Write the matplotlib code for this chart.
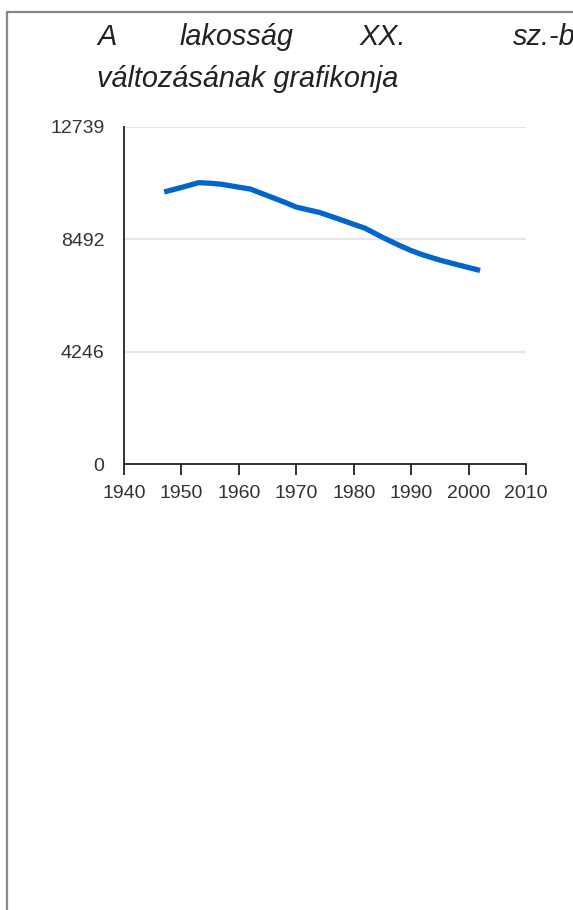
import matplotlib
matplotlib.use("Agg")
import matplotlib.pyplot as plt
from matplotlib.lines import Line2D

plt.rcParams['font.family'] = ['Liberation Sans', 'DejaVu Sans']

years = [1947, 1950, 1953, 1955, 1957, 1960, 1962, 1965, 1968, 1970, 1974, 1977,
         1980, 1982, 1985, 1988, 1990, 1992, 1995, 1998, 2002]
population = [10270, 10440, 10620, 10600, 10560, 10450, 10380, 10130, 9880, 9700,
              9500, 9280, 9050, 8900, 8560, 8250, 8060, 7900, 7700, 7530, 7310]
y_ticks = [0, 4246, 8492, 12739]
x_ticks = [1940, 1950, 1960, 1970, 1980, 1990, 2000, 2010]
title_line1 = ["A", "lakosság", "XX.", "sz.-beli"]
title_line2 = "változásának grafikonja"

W, H = 573, 910
fig = plt.figure(figsize=(W / 100, H / 100), dpi=100)
fig.patch.set_facecolor('white')

# frame border (top and left visible)
fig.add_artist(Line2D([6 / W, 1.0], [1 - 12 / H, 1 - 12 / H], transform=fig.transFigure,
                      color='#888888', lw=1.6, solid_capstyle='butt'))
fig.add_artist(Line2D([7 / W, 7 / W], [1 - 11 / H, 0.0], transform=fig.transFigure,
                      color='#888888', lw=1.6, solid_capstyle='butt'))

# title (justified first line, clipped at the right as in the original)
word_x = [97, 180, 360, 513]
for w, xp in zip(title_line1, word_x):
    fig.text(xp / W, 1 - 45 / H, w, fontsize=20.8, style='italic', color='#222222',
             ha='left', va='baseline')
fig.text(97 / W, 1 - 87 / H, title_line2, fontsize=20.8, style='italic', color='#222222',
         ha='left', va='baseline')

left, right, top, bottom = 124 / W, 526 / W, 1 - 126.5 / H, 1 - 464.3 / H
ax = fig.add_axes([left, bottom, right - left, top - bottom])
ax.set_xlim(1940, 2010)
ax.set_ylim(0, 12739)

for yv in y_ticks[1:]:
    ax.axhline(yv, color='#e5e5e5', lw=1.6, zorder=1)

ax.plot(years, population, color='#0066cc', lw=3.8, solid_capstyle='butt',
        solid_joinstyle='miter', zorder=3)

for s in ['top', 'right']:
    ax.spines[s].set_visible(False)
for s in ['left', 'bottom']:
    ax.spines[s].set_color('#222222')
    ax.spines[s].set_linewidth(1.3)

ax.set_xticks(x_ticks)
ax.set_xticklabels([str(v) for v in x_ticks])
ax.set_yticks(y_ticks)
ax.set_yticklabels([str(v) for v in y_ticks])
ax.tick_params(axis='x', direction='out', length=8, width=1.3, color='#222222',
               labelsize=14, labelcolor='#333333', pad=7)
ax.tick_params(axis='y', length=0, labelsize=14, labelcolor='#333333', pad=14)

fig.savefig('out.png', dpi=100, facecolor='white')
